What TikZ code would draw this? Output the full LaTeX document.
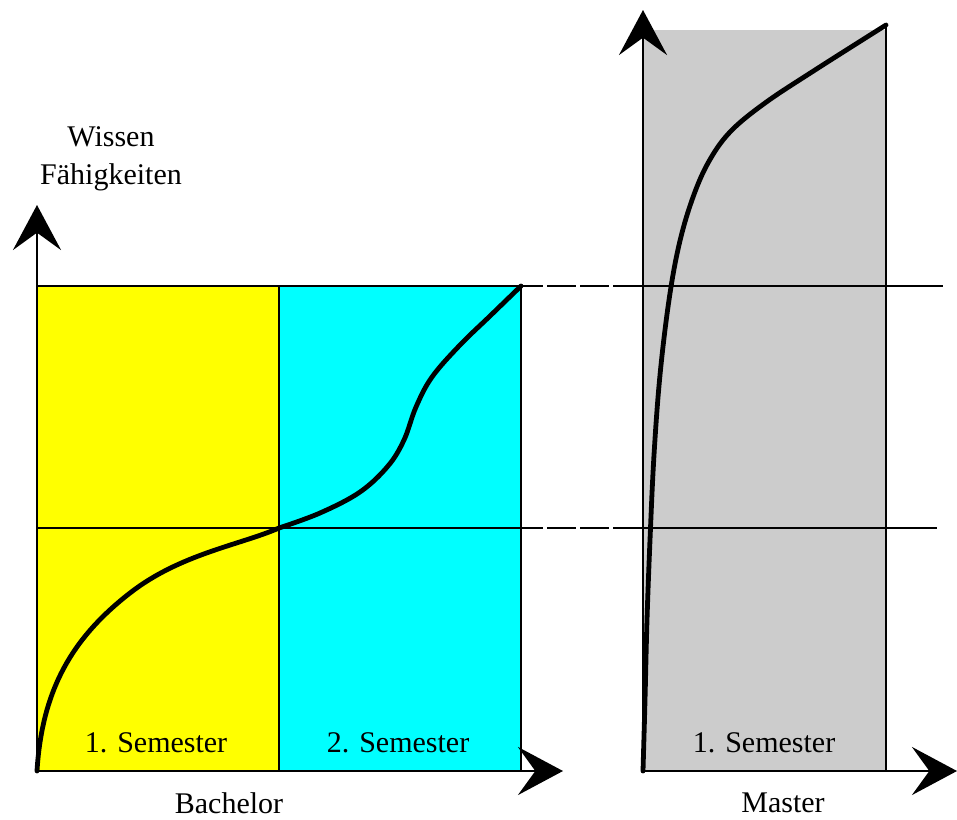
\documentclass[tikz,border=0pt]{standalone}
\usepackage{fontspec}
\setmainfont{Liberation Serif}
\usetikzlibrary{arrows.meta}
\definecolor{yel}{HTML}{FFFF00}
\definecolor{cya}{HTML}{00FFFF}
\definecolor{gry}{HTML}{CCCCCC}
\tikzset{
  axis/.style={line width=2.2pt,-{Stealth[length=33.75pt,width=36pt,inset=13pt]}},
  edge/.style={line width=2.2pt},
  hline/.style={line width=2pt},
  dline/.style={line width=2pt,dash pattern=on 21.75pt off 3pt,dash phase=5.25pt},
  curve/.style={line width=3.6pt,line cap=round,line join=round},
  lbl/.style={inner sep=0pt,font=\fontsize{22.5pt}{28.5pt}\selectfont,align=center}
}
\begin{document}
\begin{tikzpicture}[x=0.75pt,y=-0.75pt]
\useasboundingbox (0,0) rectangle (957,819);
% coordinates
\coordinate (O1) at (37,771);
\coordinate (Y1) at (37,205);
\coordinate (X1) at (563,771);
\coordinate (O2) at (643,771);
\coordinate (Y2) at (643,10);
\coordinate (X2) at (957,771);
\coordinate (TL) at (37,286);
\coordinate (TM) at (279,286);
\coordinate (TR) at (521,286);
\coordinate (ML) at (37,528);
\coordinate (MM) at (279,528);
\coordinate (MR) at (521,528);
\coordinate (BM) at (279,771);
\coordinate (BR) at (521,771);
\coordinate (G1) at (643,286);
\coordinate (G2) at (643,528);
\coordinate (GT) at (886,25);
\coordinate (GB) at (886,771);
\coordinate (E1) at (943,286);
\coordinate (E2) at (937,528);
\coordinate (C1) at (130,593);
% fills
\fill[yel] (O1) rectangle (TM);
\fill[cya] (BM) rectangle (TR);
\fill[gry] (643,30) rectangle (GB);
% horizontal lines
\draw[hline] (TL) -- (TR);
\draw[dline] (TR) -- (G1);
\draw[hline] (G1) -- (E1);
\draw[hline] (ML) -- (MR);
\draw[dline] (MR) -- (G2);
\draw[hline] (G2) -- (E2);
% box edges
\draw[edge] (TM) -- (BM);
\draw[edge] (TR) -- (BR);
\draw[edge] (GT) -- (GB);
% curves
\draw[curve] (O1) .. controls (42,690) and (72,638) .. (C1) .. controls (180,554) and (240,545) .. (MM);
\draw[curve] plot[smooth,tension=0.6] coordinates {(279,528) (320,513) (360,492) (388,466) (404,440) (416,407) (432,377) (460,345) (490,316) (521,286)};
\draw[curve] plot[smooth,tension=0.6] coordinates {(643,771) (645,700) (647,620) (650,540) (654,455) (660,375) (669,300) (679,245) (692,200) (708,163) (730,132) (765,103) (815,70) (886,25)};
% axes
\draw[axis] (O1) -- (Y1);
\draw[axis] (O1) -- (X1);
\draw[axis] (O2) -- (Y2);
\draw[axis] (O2) -- (X2);
% labels
\node[lbl] (ylab) at (111,159) {Wissen\\Fähigkeiten};
\node[lbl] (s1) at (156,743) {1. Semester};
\node[lbl] (s2) at (398,743) {2. Semester};
\node[lbl] (s3) at (764,743) {1. Semester};
\node[lbl] (bach) at (229,803) {Bachelor};
\node[lbl] (mast) at (783,803) {Master};
\end{tikzpicture}
\end{document}
